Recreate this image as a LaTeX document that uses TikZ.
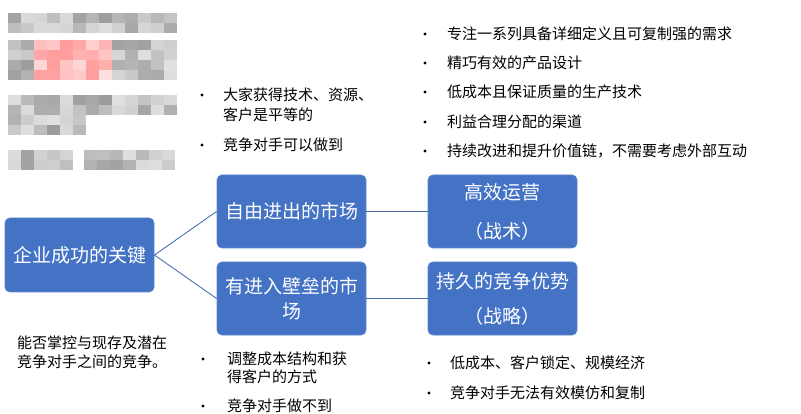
\documentclass[tikz,border=0pt]{standalone}
\usepackage{fontspec}
\setmainfont{Noto Sans CJK SC}
\definecolor{boxblue}{HTML}{4472C4}
\definecolor{boxedge}{HTML}{5B84CC}
\definecolor{linkblue}{HTML}{4A6FB0}
\begin{document}
\begin{tikzpicture}[x=1pt,y=-1pt]
\tikzset{
  box/.style={draw=boxedge, fill=boxblue, rounded corners=5pt, minimum width=149pt,
    minimum height=73pt, text=white, align=center, inner sep=0pt, line width=0.8pt},
  link/.style={draw=linkblue, line width=0.9pt},
  item/.style={anchor=west, font=\fontsize{15}{20}\selectfont, inner sep=0pt, align=left},
  dot/.style={circle, fill=black, inner sep=0pt, minimum size=3.4pt},
}
\useasboundingbox (0,0) rectangle (801,414);
% mosaic (blurred area)
\pgfmathsetseed{7}
\foreach \yy/\xa/\xb in {13/8/164, 23/8/164, 40/8/164, 50/8/164, 60/8/164, 70/8/164, 95/8/164, 105/8/164, 115/8/83, 125/8/83, 150/8/60, 160/8/60, 150/84/164, 160/84/164}{
  \pgfmathtruncatemacro{\xs}{\xa+13}
  \foreach \xx in {\xa,\xs,...,\xb}{
    \pgfmathtruncatemacro{\r}{12+rnd*28}
    \pgfmathtruncatemacro{\ispink}{(\yy>=40 && \yy<=72 && \xx>=28 && \xx<=100) ? 1 : 0}
    \ifnum\ispink=1
      \fill[red!\r!white] (\xx,\yy) rectangle ++(13,10.5);
    \else
      \fill[black!\r!white] (\xx,\yy) rectangle ++(13,10.5);
    \fi
  }
}
% boxes
\node[box, minimum height=74pt, font=\fontsize{19}{24}\selectfont] (b1) at (79.5,255) {企业成功的关键};
\node[box, font=\fontsize{19}{24}\selectfont] (b2) at (291.5,211.5) {自由进出的市场};
\node[box, font=\fontsize{19}{25}\selectfont] (b3) at (291.5,298.5) {有进入壁垒的市\\场};
\node[box, font=\fontsize{19}{39}\selectfont] (b4) at (502.5,211.5) {高效运营\\（战术）};
\node[box, font=\fontsize{19}{35}\selectfont] (b5) at (502.5,298.5) {持久的竞争优势\\（战略）};
% connectors
\draw[link] (b1.east) -- (b2.west);
\draw[link] (b1.east) -- (b3.west);
\draw[link] (b2.east) -- (b4.west);
\draw[link] (b3.east) -- (b5.west);
% top-right list
\foreach \n/\yy/\t in {1/34/专注一系列具备详细定义且可复制强的需求, 2/63/精巧有效的产品设计, 3/92/低成本且保证质量的生产技术, 4/122/利益合理分配的渠道, 5/151/持续改进和提升价值链，不需要考虑外部互动}{
  \node[dot] (trd\n) at (425,\yy) {};
  \node[item] (tr\n) at (447,\yy) {\t};
}
% top-middle list
\node[dot] (tmd1) at (202,95) {};
\node[item] (tm1) at (223,105) {大家获得技术、资源、\\客户是平等的};
\node[dot] (tmd2) at (202,145) {};
\node[item] (tm2) at (223,145) {竞争对手可以做到};
% bottom-left text
\node[item, font=\fontsize{15}{19}\selectfont] (bl) at (17,352.5) {能否掌控与现存及潜在\\竞争对手之间的竞争。};
% bottom-middle list
\node[dot] (bmd1) at (203,359) {};
\node[item, font=\fontsize{15}{18.5}\selectfont] (bm1) at (227,368) {调整成本结构和获\\得客户的方式};
\node[dot] (bmd2) at (203,406) {};
\node[item] (bm2) at (227,406) {竞争对手做不到};
% bottom-right list
\node[dot] (brd1) at (429,363) {};
\node[item] (br1) at (450,363) {低成本、客户锁定、规模经济};
\node[dot] (brd2) at (429,393) {};
\node[item] (br2) at (450,393) {竞争对手无法有效模仿和复制};
\end{tikzpicture}
\end{document}
